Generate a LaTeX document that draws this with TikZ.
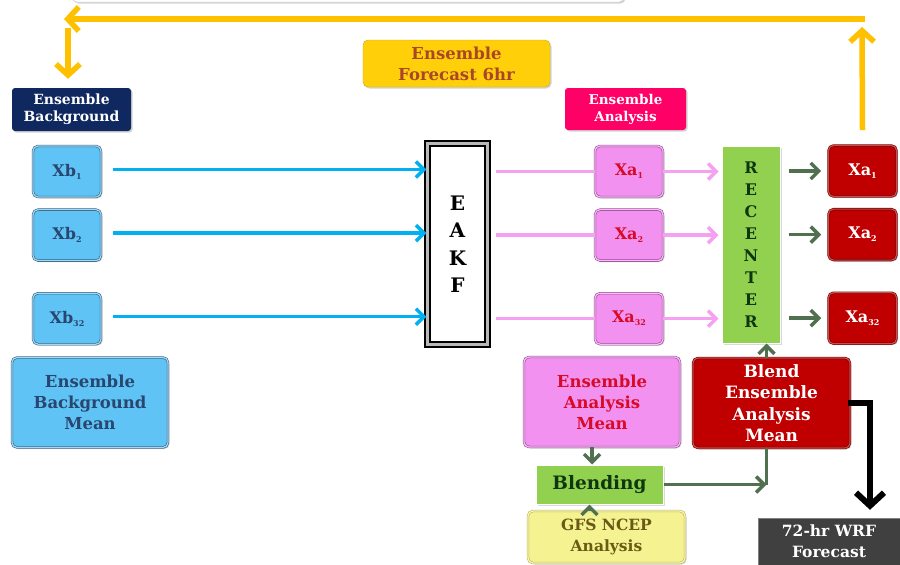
\documentclass[tikz,border=0pt]{standalone}
\usepackage{fontspec}
\setmainfont{DejaVu Serif}
\usetikzlibrary{positioning, arrows.meta, shadows, calc}
\definecolor{loopgold}{RGB}{255,192,0}
\definecolor{goldedge}{RGB}{215,160,20}
\definecolor{sunfill}{RGB}{255,208,10}
\definecolor{rusttext}{RGB}{170,70,40}
\definecolor{skyfill}{RGB}{95,195,245}
\definecolor{skyedge}{RGB}{55,95,125}
\definecolor{skytext}{RGB}{40,70,110}
\definecolor{skyline}{RGB}{0,176,240}
\definecolor{violetfill}{RGB}{243,145,240}
\definecolor{violetedge}{RGB}{150,75,150}
\definecolor{violetline}{RGB}{245,160,240}
\definecolor{crimsontext}{RGB}{215,10,40}
\definecolor{darkred}{RGB}{192,0,0}
\definecolor{darkrededge}{RGB}{105,0,0}
\definecolor{leafgreen}{RGB}{146,208,80}
\definecolor{forest}{RGB}{15,55,15}
\definecolor{mossline}{RGB}{80,112,80}
\definecolor{navy}{RGB}{15,40,95}
\definecolor{hotpink}{RGB}{255,0,102}
\definecolor{paleyellow}{RGB}{245,242,145}
\definecolor{paleedge}{RGB}{190,180,80}
\definecolor{olivetext}{RGB}{105,90,20}
\definecolor{slatebox}{RGB}{64,64,64}
\newcommand{\mem}[2]{#1\raisebox{-3pt}{\fontsize{8}{8}\selectfont #2}}

\begin{document}
\begin{tikzpicture}[
  x=1pt, y=-1pt,
  every node/.style={font=\bfseries},
  box/.style={rounded corners=5pt, align=center, inner sep=2pt,
              drop shadow={opacity=0.35, shadow xshift=1.5pt, shadow yshift=-1.5pt}},
  member/.style={box, minimum width=68pt, minimum height=51pt,
                 line width=0.6pt, double distance=1.2pt,
                 font=\bfseries\fontsize{16}{20}\selectfont},
  bgbox/.style={member, fill=skyfill, draw=skyedge, double=skyfill!60!white, text=skytext},
  anbox/.style={member, fill=violetfill, draw=violetedge, double=violetfill!60!white, text=crimsontext},
  outbox/.style={member, fill=darkred, draw=darkrededge, double=darkred!70!white, text=white},
  meanbox/.style={member, minimum width=156pt, minimum height=90pt},
  tag/.style={box, rounded corners=3pt, text=white},
  goldarr/.style={-{Straight Barb[length=11pt, width=24pt]}, line width=5.5pt, loopgold},
  bluearr/.style={-{Straight Barb[length=8pt, width=16pt]}, line width=3.5pt, skyline},
  pinkline/.style={line width=3.5pt, violetline},
  pinkarr/.style={pinkline, -{Straight Barb[length=8pt, width=16pt]}},
  greenline/.style={line width=3.5pt, mossline},
  greenarr/.style={greenline, -{Straight Barb[length=8pt, width=16pt]}},
  blackarr/.style={-{Straight Barb[length=13pt, width=28pt]}, line width=6pt, black}
]
\useasboundingbox (0,0) rectangle (900,565);

% cut-off frame at the top
\node[box, fill=white, draw=gray!40, minimum width=552pt, minimum height=40pt] (prev) at (348,-18) {};

% labels
\node[tag, fill=navy, minimum width=119pt, minimum height=43pt,
      font=\bfseries\fontsize{14}{17}\selectfont] (bglabel) at (71.5,109.5) {Ensemble\\Background};
\node[tag, fill=hotpink, minimum width=121pt, minimum height=42pt,
      font=\bfseries\fontsize{13.5}{17}\selectfont] (anlabel) at (625.5,109) {Ensemble\\Analysis};
\node[box, fill=sunfill, draw=goldedge, text=rusttext, minimum width=187pt, minimum height=47pt,
      font=\bfseries\fontsize{16.5}{21}\selectfont] (fcst) at (456.5,63.5) {Ensemble\\Forecast 6hr};

% background members
\node[bgbox] (xb1) at (67,171.5) {\mem{Xb}{1}};
\node[bgbox, below=12pt of xb1] (xb2) {\mem{Xb}{2}};
\node[bgbox, below=32pt of xb2] (xb32) {\mem{Xb}{32}};
\node[meanbox, fill=skyfill, draw=skyedge, double=skyfill!60!white, text=skytext,
      font=\bfseries\fontsize{16.5}{21}\selectfont] (bgmean) at (90,402.5) {Ensemble\\Background\\Mean};

% filter
\node[draw=black, line width=2.2pt, double=gray!55, double distance=2.5pt, fill=white,
      minimum width=60pt, minimum height=201pt, align=center, inner sep=0pt,
      font=\bfseries\fontsize{20}{27.5}\selectfont] (eakf) at (457.5,244) {E\\A\\K\\F};

% analysis members
\node[anbox] (xa1) at (629,171.5) {\mem{Xa}{1}};
\node[anbox, below=12pt of xa1] (xa2) {\mem{Xa}{2}};
\node[anbox, below=32pt of xa2] (xa32) {\mem{Xa}{32}};

% recentering
\node[fill=leafgreen, draw=white, line width=1pt, minimum width=58pt, minimum height=197pt,
      align=center, inner sep=0pt, text=forest,
      drop shadow={opacity=0.3, shadow xshift=1.5pt, shadow yshift=-1.5pt},
      font=\bfseries\fontsize{16}{22}\selectfont] (recenter) at (751,244.5) {R\\E\\C\\E\\N\\T\\E\\R};

\node[outbox] (ra1) at (862.5,171) {\mem{Xa}{1}};
\node[outbox, below=12pt of ra1] (ra2) {\mem{Xa}{2}};
\node[outbox, below=32pt of ra2] (ra32) {\mem{Xa}{32}};

% means and blending
\node[meanbox, fill=violetfill, draw=violetedge, double=violetfill!60!white, text=crimsontext,
      font=\bfseries\fontsize{16.5}{21}\selectfont] (anmean) at (602,402) {Ensemble\\Analysis\\Mean};
\node[meanbox, minimum width=157pt, fill=darkred, draw=darkrededge, double=darkred!70!white, text=white,
      font=\bfseries\fontsize{17}{21.5}\selectfont] (blend) at (771.5,403) {Blend\\Ensemble\\Analysis\\Mean};
\node[fill=leafgreen, draw=white, line width=1pt, minimum width=127pt, minimum height=39pt,
      text=forest, drop shadow={opacity=0.3, shadow xshift=1.5pt, shadow yshift=-1.5pt},
      font=\bfseries\fontsize{18.5}{22}\selectfont] (blending) at (599.5,484.5) {Blending};
\node[box, minimum width=157pt, minimum height=52pt, fill=paleyellow, draw=paleedge,
      line width=0.6pt, double=paleyellow!60!white, double distance=1.2pt, text=olivetext,
      font=\bfseries\fontsize{15.5}{21}\selectfont] (gfs) at (606.5,537) {GFS NCEP\\Analysis};
\node[fill=slatebox, draw=gray, minimum width=142pt, minimum height=47pt, align=center,
      text=white, inner sep=1pt,
      font=\bfseries\fontsize{15.5}{21}\selectfont] (wrf) at (829,541.5) {72-hr WRF\\Forecast};

% cycling loop
\coordinate (loopR) at (865,19);
\coordinate (loopL) at (64,19);
\coordinate (riseTop) at (862,27);
\coordinate (dropTop) at (68,28);
\draw[goldarr] ($(ra1.north)+(0,-15)$) -- (riseTop);
\draw[goldarr] (loopR) -- (loopL);
\draw[goldarr] (dropTop) -- ($(bglabel.north)+(-3.5,-9)$);

% filter inputs and outputs
\foreach \m/\a in {xb1/xa1, xb2/xa2, xb32/xa32} {
  \draw[bluearr] ([xshift=12pt, yshift=2pt]\m.east) -- ([yshift=2pt]\m.east -| eakf.west);
  \draw[pinkline] ([xshift=7pt]\a -| eakf.east) -- (\a.west);
  \draw[pinkarr] (\a.east) -- ([xshift=-3pt]\a.east -| recenter.west);
}
\foreach \r in {ra1, ra2, ra32} {
  \draw[greenarr] ([xshift=8pt]\r.west -| recenter.east) -- ([xshift=-7pt]\r.west);
}

% blending paths
\coordinate (mergept) at ([xshift=-5pt]blend.south |- blending.east);
\draw[greenarr] ([xshift=-10pt]anmean.south) -- ([xshift=-10pt]anmean.south |- blending.north);
\draw[greenarr] ([xshift=-17pt]gfs.north) -- ([xshift=-17pt]gfs.north |- blending.south);
\draw[greenarr] (blending.east) -- (mergept);
\draw[greenline] ([xshift=-5pt]blend.south) -- (mergept);
\draw[greenarr] ([xshift=-5pt]blend.north) -- ([xshift=-5pt]blend.north |- recenter.south);
\draw[blackarr] ([xshift=-2pt]blend.east) -| ([xshift=41pt, yshift=8pt]wrf.north);
\end{tikzpicture}
\end{document}
